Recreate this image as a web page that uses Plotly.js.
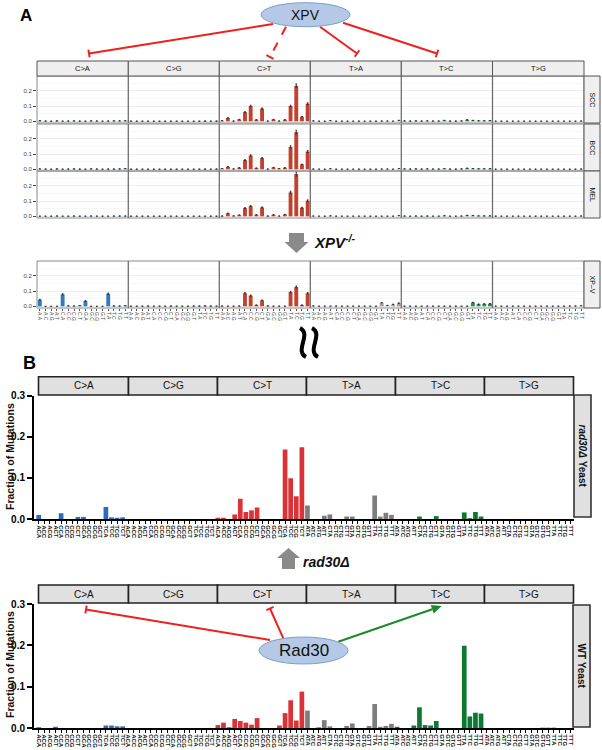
<!DOCTYPE html>
<html>
<head>
<meta charset="utf-8">
<script src="https://cdn.plot.ly/plotly-3.0.1.min.js"></script>
<style>html,body{margin:0;padding:0;background:#fff}#chart{width:602px;height:750px}</style>
</head>
<body>
<div id="chart"></div>
<script>
// ---------------- DATA ----------------
const bases = ['A','C','G','T'];
const mutTypes = ['C>A','C>G','C>T','T>A','T>C','T>G'];
const rowNamesA = ['SCC','BCC','MEL','XP\u2013V'];

// Panel A (human tumours), 96 trinucleotide contexts each
const scc = [
0.004,0.002,0.001,0.003,0.001,0.002,0.003,0.002,0.001,0.003,0.002,0.001,0.002,0.003,0.003,0.004,
0.001,0.001,0.001,0.001,0.001,0.001,0.001,0.001,0.001,0.001,0.001,0.001,0.001,0.002,0.001,0.002,
0.004,0.022,0.002,0.012,0.060,0.100,0.010,0.083,0.002,0.012,0.002,0.010,0.100,0.232,0.030,0.115,
0.003,0.001,0.001,0.005,0.001,0.001,0.001,0.001,0.001,0.001,0.001,0.001,0.002,0.002,0.001,0.006,
0.003,0.002,0.003,0.002,0.003,0.002,0.002,0.006,0.002,0.002,0.003,0.010,0.006,0.004,0.004,0.005,
0.001,0.001,0.001,0.001,0.001,0.001,0.001,0.001,0.001,0.001,0.001,0.001,0.001,0.001,0.001,0.002];
const bcc = [
0.003,0.002,0.001,0.003,0.001,0.002,0.003,0.002,0.001,0.003,0.002,0.001,0.002,0.002,0.003,0.005,
0.001,0.001,0.001,0.001,0.001,0.001,0.001,0.001,0.001,0.001,0.001,0.001,0.001,0.002,0.001,0.002,
0.005,0.017,0.003,0.010,0.060,0.090,0.008,0.073,0.002,0.012,0.005,0.010,0.146,0.243,0.032,0.116,
0.002,0.001,0.001,0.004,0.001,0.001,0.001,0.001,0.001,0.001,0.001,0.001,0.002,0.002,0.001,0.005,
0.003,0.002,0.003,0.002,0.003,0.002,0.002,0.005,0.002,0.002,0.003,0.007,0.005,0.004,0.004,0.004,
0.001,0.001,0.001,0.001,0.001,0.001,0.001,0.001,0.001,0.001,0.001,0.001,0.001,0.001,0.001,0.002];
const mel = [
0.001,0.001,0.001,0.002,0.001,0.001,0.002,0.001,0.001,0.002,0.001,0.001,0.001,0.002,0.002,0.002,
0.001,0.001,0.001,0.001,0.001,0.001,0.001,0.001,0.001,0.001,0.001,0.001,0.001,0.001,0.001,0.001,
0.002,0.020,0.003,0.008,0.054,0.067,0.010,0.058,0.002,0.010,0.002,0.012,0.156,0.276,0.056,0.102,
0.002,0.001,0.001,0.003,0.001,0.001,0.001,0.001,0.001,0.001,0.001,0.001,0.001,0.001,0.001,0.005,
0.002,0.001,0.002,0.001,0.002,0.001,0.001,0.004,0.001,0.001,0.002,0.006,0.005,0.003,0.003,0.003,
0.001,0.001,0.001,0.001,0.001,0.001,0.001,0.001,0.001,0.001,0.001,0.001,0.001,0.001,0.001,0.002];
const xpv = [
0.043,0.000,0.000,0.000,0.078,0.003,0.002,0.005,0.035,0.000,0.000,0.000,0.082,0.003,0.002,0.004,
0.001,0.001,0.001,0.002,0.001,0.001,0.001,0.002,0.001,0.001,0.001,0.002,0.002,0.003,0.002,0.001,
0.002,0.001,0.001,0.002,0.085,0.070,0.008,0.039,0.003,0.001,0.001,0.001,0.093,0.126,0.008,0.085,
0.003,0.001,0.001,0.001,0.002,0.001,0.001,0.001,0.001,0.001,0.001,0.001,0.024,0.006,0.013,0.021,
0.001,0.001,0.001,0.001,0.001,0.001,0.001,0.001,0.001,0.001,0.001,0.001,0.025,0.014,0.016,0.017,
0.001,0.001,0.001,0.001,0.001,0.001,0.001,0.001,0.001,0.001,0.001,0.001,0.001,0.002,0.002,0.004];

// Panel B (yeast), fraction of mutations
const rad30 = [
0.010,0,0,0,0.014,0,0,0.005,0.005,0,0,0,0.029,0.004,0.003,0.004,
0,0,0,0,0,0,0,0,0,0,0,0,0,0,0,0,
0.003,0.003,0,0.011,0.049,0.017,0.021,0.028,0,0,0,0,0.169,0.099,0.055,0.174,
0.033,0,0,0.008,0.011,0,0,0.006,0.006,0,0,0,0.057,0.006,0.015,0.010,
0,0,0,0,0.006,0,0,0.007,0,0,0,0,0.016,0.002,0.017,0.006,
0,0,0,0,0,0,0,0,0,0,0,0,0,0,0,0];
const wt = [
0.002,0,0,0.003,0,0,0,0,0,0,0,0,0.006,0.006,0.004,0.004,
0,0,0,0,0,0,0,0,0,0,0,0,0,0,0,0,
0.007,0.013,0.002,0.022,0.017,0.013,0.008,0.024,0,0,0,0.006,0.036,0.067,0.018,0.088,
0.042,0,0.002,0.019,0.004,0,0,0.005,0.011,0,0,0.005,0.058,0.003,0.005,0.010,
0.003,0,0,0.006,0.050,0.007,0.006,0.017,0,0,0,0,0.199,0.028,0.037,0.035,
0,0,0,0,0,0,0,0,0,0,0.001,0.001,0.001,0,0,0];

const colorsA = ['#2f7bbd','#333333','#c2412d','#a0a0a0','#2f8a55','#e9a08e'];
const colorsB = ['#2a6db7','#111111','#d93338','#7d7d7d','#0b7a30','#cc44cc'];

// ---------------- HELPERS ----------------
const W = 602, H = 750;
const X = x => x / W, Y = y => 1 - y / H;
const idx = [], labelsA = [], labelsB = [];
mutTypes.forEach(m => bases.forEach(b5 => bases.forEach(b3 => {
  idx.push(idx.length);
  labelsA.push(b5 + '.' + b3);
  labelsB.push(b5 + m[0] + b3);
})));
const colorFor = pal => idx.map(i => pal[Math.floor(i / 16)]);

const traces = [], shapes = [], annotations = [];
const layout = {
  width: W, height: H, margin: {l:0, r:0, t:0, b:0},
  showlegend: false, paper_bgcolor: '#fff', plot_bgcolor: '#fff',
  font: {family: 'Arial, "Liberation Sans", sans-serif', color: '#000'},
  shapes: shapes, annotations: annotations
};
function ax(n) { return n === 1 ? '' : String(n); }
function label(x, y, text, size, opts) {
  annotations.push(Object.assign({xref: 'paper', yref: 'paper', x: X(x), y: Y(y), text: text,
    showarrow: false, xanchor: 'center', yanchor: 'middle', font: {size: size, color: '#111'}}, opts || {}));
}

// ---------------- PANEL A ----------------
const rowsA = [
  {data: scc, top: 76, bot: 123},
  {data: bcc, top: 124, bot: 171},
  {data: mel, top: 171, bot: 218},
  {data: xpv, top: 261, bot: 308}
];
const edgesA = [37, 128.3, 219.3, 310.3, 401.3, 492.5, 584];
rowsA.forEach((r, k) => {
  const n = k + 1, s = ax(n);
  traces.push({type: 'bar', x: idx, y: r.data, xaxis: 'x' + s, yaxis: 'y' + s,
    width: 0.68, marker: {color: colorFor(colorsA), line: {width: 0}},
    error_y: {type: 'percent', value: 5, thickness: 1, width: 0.8, color: '#333'},
    hoverinfo: 'skip'});
  const last = (k === 3);
  layout['xaxis' + s] = {domain: [X(37), X(584)], range: [-0.5, 95.5], anchor: 'y' + s,
    showgrid: false, zeroline: false, showline: false, automargin: false,
    tickmode: 'array', tickvals: idx, ticktext: labelsA, tickangle: 90,
    showticklabels: last, ticks: last ? 'outside' : '', ticklen: 2, tickcolor: '#555',
    tickfont: {size: 5, color: '#444'}};
  layout['yaxis' + s] = {domain: [Y(r.bot), Y(r.top)], range: [-0.011, 0.296], anchor: 'x' + s,
    tick0: 0, dtick: 0.1, tickformat: '.1f', ticks: 'outside', ticklen: 3, tickcolor: '#444',
    tickfont: {size: 6, color: '#444'}, showgrid: true, gridcolor: '#e9e9e9', gridwidth: 0.8,
    minor: {dtick: 0.05, showgrid: true, gridcolor: '#f4f4f4'},
    zeroline: false, showline: false, automargin: false};
  shapes.push({type: 'rect', xref: 'x' + s + ' domain', yref: 'y' + s + ' domain', x0: 0, x1: 1, y0: 0, y1: 1,
    line: {color: '#8a8a8a', width: 1}});
  for (let c = 1; c < 6; c++) {
    shapes.push({type: 'line', xref: 'paper', yref: 'y' + s + ' domain', x0: X(edgesA[c]), x1: X(edgesA[c]), y0: 0, y1: 1,
      line: {color: '#6f6f6f', width: 1.3}});
  }
  shapes.push({type: 'rect', xref: 'paper', yref: 'paper', x0: X(584), x1: X(600), y0: Y(r.bot), y1: Y(r.top),
    fillcolor: '#efefef', line: {color: '#555', width: 1}});
  label(592, (r.top + r.bot) / 2, rowNamesA[k], 7, {textangle: 90});
});
for (let c = 0; c < 6; c++) {
  shapes.push({type: 'rect', xref: 'paper', yref: 'paper', x0: X(edgesA[c]), x1: X(edgesA[c + 1]), y0: Y(76), y1: Y(61),
    fillcolor: '#efefef', line: {color: '#555', width: 1}});
  label((edgesA[c] + edgesA[c + 1]) / 2, 68.5, mutTypes[c].replace('>', '&gt;'), 7.5);
}

// ---------------- PANEL B ----------------
const rowsB = [
  {data: rad30, top: 395.5, bot: 519, hTop: 376.7, hBot: 395, sx0: 574, sx1: 591, sTop: 395, sBot: 517,
   label: '<b><i>rad30\u0394</i> Yeast</b>', titleY: 457},
  {data: wt, top: 604, bot: 728, hTop: 585, hBot: 603, sx0: 573, sx1: 590, sTop: 605, sBot: 727,
   label: '<b>WT Yeast</b>', titleY: 665}
];
const edgesB = [38.5, 128.5, 217.5, 306.5, 395.5, 484.5, 573.5];
rowsB.forEach((r, k) => {
  const n = k + 5, s = ax(n);
  traces.push({type: 'bar', x: idx, y: r.data, xaxis: 'x' + s, yaxis: 'y' + s,
    width: 0.84, marker: {color: colorFor(colorsB), line: {width: 0}}, hoverinfo: 'skip'});
  layout['xaxis' + s] = {domain: [X(34), X(574)], range: [-0.84, 95.6], anchor: 'y' + s,
    showgrid: false, zeroline: false, showline: true, linecolor: '#000', linewidth: 2, automargin: false,
    tickmode: 'array', tickvals: idx, ticktext: labelsB, tickangle: 90,
    ticks: 'outside', ticklen: 3, tickwidth: 1, tickcolor: '#000',
    tickfont: {size: 6, color: '#111', weight: 'bold'}};
  layout['yaxis' + s] = {domain: [Y(r.bot), Y(r.top)], range: [0, 0.3], anchor: 'x' + s,
    tickmode: 'array', tickvals: [0, 0.1, 0.2, 0.3], ticktext: ['0.0', '0.1', '0.2', '0.3'],
    ticks: 'outside', ticklen: 5, tickwidth: 2, tickcolor: '#000',
    showline: true, linecolor: '#000', linewidth: 2, showgrid: false, zeroline: false, automargin: false,
    tickfont: {size: 10, color: '#000', weight: 'bold'}};
  for (let c = 0; c < 6; c++) {
    shapes.push({type: 'rect', xref: 'paper', yref: 'paper', x0: X(edgesB[c]), x1: X(edgesB[c + 1]), y0: Y(r.hBot), y1: Y(r.hTop),
      fillcolor: '#e0e0e0', line: {color: '#222', width: 1.6}});
    label((edgesB[c] + edgesB[c + 1]) / 2, (r.hTop + r.hBot) / 2, mutTypes[c].replace('>', '&gt;'), 10);
  }
  shapes.push({type: 'rect', xref: 'paper', yref: 'paper', x0: X(r.sx0), x1: X(r.sx1), y0: Y(r.sBot), y1: Y(r.sTop),
    fillcolor: '#e0e0e0', line: {color: '#333', width: 1.6}});
  label((r.sx0 + r.sx1) / 2, (r.sTop + r.sBot) / 2, r.label, 10, {textangle: 90});
  label(10, r.titleY, '<b>Fraction of Mutations</b>', 10.5, {textangle: -90});
});

// ---------------- DECORATIONS ----------------
function poly(pts, fill) {
  return {type: 'path', xref: 'paper', yref: 'paper', fillcolor: fill, line: {width: 0},
    path: 'M ' + pts.map(p => X(p[0]) + ',' + Y(p[1])).join(' L ') + ' Z'};
}
function seg(x1, y1, x2, y2, color, dash) {
  return {type: 'line', xref: 'paper', yref: 'paper', x0: X(x1), y0: Y(y1), x1: X(x2), y1: Y(y2),
    line: {color: color, width: 2, dash: dash || 'solid'}};
}
function inhibit(x1, y1, x2, y2, dash) {
  shapes.push(seg(x1, y1, x2, y2, '#ee2020', dash));
  const dx = x2 - x1, dy = y2 - y1, L = Math.hypot(dx, dy);
  const nx = -dy / L * 4, ny = dx / L * 4;
  shapes.push(seg(x2 - nx, y2 - ny, x2 + nx, y2 + ny, '#ee2020'));
}
function arrow(x1, y1, x2, y2, color) {
  const dx = x2 - x1, dy = y2 - y1, L = Math.hypot(dx, dy), ux = dx / L, uy = dy / L;
  const bx = x2 - ux * 10, by = y2 - uy * 10, nx = -uy * 4.5, ny = ux * 4.5;
  shapes.push(seg(x1, y1, bx, by, color));
  shapes.push(poly([[x2, y2], [bx + nx, by + ny], [bx - nx, by - ny]], color));
}
// Panel A inhibition lines from XPV
inhibit(273, 24, 89, 53.5);
inhibit(286, 26.7, 270, 57, 'dash');
inhibit(320, 26.7, 357, 53.5);
inhibit(343, 22.7, 437, 53.5);
shapes.push({type: 'circle', xref: 'paper', yref: 'paper', x0: X(261), x1: X(350), y0: Y(26.7), y1: Y(2.7),
  fillcolor: '#b5c9e6', line: {color: '#7c9dca', width: 1}});
label(305.5, 15, 'XPV', 14);

// Panel B lines from Rad30
inhibit(270, 640, 86, 609.5);
inhibit(283.3, 638.3, 270, 608.5);
arrow(338.3, 641.7, 441.7, 606, '#1b8a2b');
shapes.push({type: 'circle', xref: 'paper', yref: 'paper', x0: X(259), x1: X(348), y0: Y(664), y1: Y(637),
  fillcolor: '#b5c9e6', line: {color: '#7c9dca', width: 1}});
label(304, 650.5, 'Rad30', 17);

// grey block arrows
shapes.push(poly([[289, 233], [304, 233], [304, 242], [308.5, 242], [296.5, 253], [284.5, 242], [289, 242]], '#8a8a8a'));
label(312, 241, '<b><i>XPV<sup>-/-</sup></i></b>', 15, {xanchor: 'left'});
shapes.push(poly([[288.5, 548], [300, 558], [295, 558], [295, 569], [282, 569], [282, 558], [277, 558]], '#8a8a8a'));
label(301, 562, '<b><i>rad30\u0394</i></b>', 14, {xanchor: 'left'});

// break symbol (two wavy strokes)
[303, 315].forEach(cx => {
  shapes.push({type: 'path', xref: 'paper', yref: 'paper', line: {color: '#000', width: 4},
    path: `M ${X(cx - 3)},${Y(328)} C ${X(cx + 9)},${Y(334)} ${X(cx - 9)},${Y(351)} ${X(cx + 3)},${Y(357)}`});
});

// panel letters
label(26, 16, '<b>A</b>', 17, {font: {size: 17, color: '#000'}});
label(29, 363, '<b>B</b>', 18, {font: {size: 18, color: '#000'}});

Plotly.newPlot('chart', traces, layout, {staticPlot: true, displayModeBar: false});
</script>
</body>
</html>
